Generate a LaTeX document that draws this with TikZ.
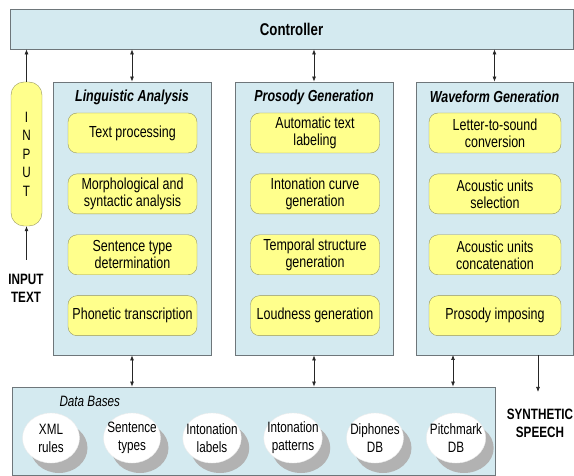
\documentclass[tikz,border=0pt]{standalone}
\usepackage{fontspec}
\setmainfont{Liberation Sans}[FakeStretch=0.78]
\usetikzlibrary{positioning,shapes.geometric,shadows,arrows.meta}

\definecolor{panelblue}{RGB}{212,234,240}
\definecolor{paneledge}{RGB}{110,118,122}
\definecolor{procyellow}{RGB}{255,255,140}
\definecolor{procedge}{RGB}{150,150,95}
\definecolor{shadowgray}{RGB}{178,178,178}

\begin{document}
\begin{tikzpicture}[x=1pt,y=-1pt,>={Latex[length=5pt,width=4pt]},node distance=20.5pt,
    panel/.style={draw=paneledge,fill=panelblue,line width=0.8pt,inner sep=0pt},
    paneltitle/.style={font=\fontsize{16}{18}\selectfont\bfseries\itshape},
    proc/.style={draw=procedge,fill=procyellow,rounded corners=9pt,minimum width=129pt,minimum height=40pt,
        align=center,inner sep=1pt,font=\fontsize{16}{17}\selectfont},
    dbitem/.style={ellipse,draw=white!85!gray,fill=white,minimum width=57pt,minimum height=50pt,
        inner xsep=-5pt,inner ysep=0pt,align=center,font=\fontsize{15}{18}\selectfont,
        drop shadow={shadow xshift=8pt,shadow yshift=-10pt,fill=shadowgray,opacity=1}},
    bigtext/.style={align=center,font=\fontsize{15}{18}\selectfont\bfseries},
    link/.style={draw=black!85,line width=0.7pt}]
    \useasboundingbox (0,0) rectangle (574,476);

    \node[panel,minimum width=563pt,minimum height=40pt,font=\fontsize{17}{17}\selectfont\bfseries] (ctrl) at (291.5,29) {Controller};

    \node[panel,minimum width=158pt,minimum height=273pt] (ling) at (132,218.5) {};
    \node[panel,minimum width=158pt,minimum height=273pt] (pros) at (314,218.5) {};
    \node[panel,minimum width=157pt,minimum height=273pt] (wave) at (494.5,218.5) {};
    \node[paneltitle] (lingtitle) at (132,97) {Linguistic Analysis};
    \node[paneltitle] (prostitle) at (314,97) {Prosody Generation};
    \node[paneltitle] (wavetitle) at (494.5,97) {Waveform Generation};

    \node[proc] (textproc) at (132.5,133) {Text processing};
    \node[proc,below=of textproc] (morph) {Morphological and\\syntactic analysis};
    \node[proc,below=of morph] (senttype) {Sentence type\\determination};
    \node[proc,below=of senttype] (phonetic) {Phonetic transcription};

    \node[proc] (autolabel) at (315,133) {Automatic text\\labeling};
    \node[proc,below=of autolabel] (intcurve) {Intonation curve\\generation};
    \node[proc,below=of intcurve] (temporal) {Temporal structure\\generation};
    \node[proc,below=of temporal] (loudness) {Loudness generation};

    \node[proc,minimum width=132pt] (lettersound) at (495,133) {Letter-to-sound\\conversion};
    \node[proc,minimum width=132pt,below=of lettersound] (unitsel) {Acoustic units\\selection};
    \node[proc,minimum width=132pt,below=of unitsel] (unitcat) {Acoustic units\\concatenation};
    \node[proc,minimum width=132pt,below=of unitcat] (imposing) {Prosody imposing};

    \node[draw=procedge,fill=procyellow,rounded corners=13pt,minimum width=31pt,minimum height=144pt,
        align=center,font=\fontsize{15}{18.5}\selectfont] (input) at (26.5,154) {I\\N\\P\\U\\T};
    \node[bigtext] (intext) at (26,288) {INPUT\\TEXT};
    \coordinate (inbase) at (26.5,260);

    \node[panel,minimum width=483pt,minimum height=88pt] (dbase) at (253.5,431) {};
    \node[anchor=west,font=\fontsize{15}{15}\selectfont\itshape] (dbtitle) at (56,401) {Data Bases};
    \node[dbitem] (xml) at (51,438) {XML\\rules};
    \node[dbitem] (senttypes) at (132,438) {Sentence\\types};
    \node[dbitem] (intlabels) at (212,438) {Intonation\\labels};
    \node[dbitem] (intpatterns) at (293,438) {Intonation\\patterns};
    \node[dbitem] (diphones) at (375,438) {Diphones\\DB};
    \node[dbitem] (pitchmark) at (456,438) {Pitchmark\\DB};

    \node[bigtext] (speech) at (540,423) {SYNTHETIC\\SPEECH};
    \coordinate (wavedb) at (453,355);
    \coordinate (wavespeech) at (538,355);
    \coordinate (speechend) at (538,392);

    \draw[link,->] (inbase) -- (input.south);
    \draw[link,->] (input.north) -- (input.north |- ctrl.south);
    \draw[link,<->] (ling.north) -- (ling.north |- ctrl.south);
    \draw[link,<->] (pros.north) -- (pros.north |- ctrl.south);
    \draw[link,<->] (wave.north) -- (wave.north |- ctrl.south);
    \draw[link,<->] (ling.south) -- (ling.south |- dbase.north);
    \draw[link,<->] (pros.south) -- (pros.south |- dbase.north);
    \draw[link,<->] (wavedb) -- (wavedb |- dbase.north);
    \draw[link,->] (wavespeech) -- (speechend);
\end{tikzpicture}
\end{document}
